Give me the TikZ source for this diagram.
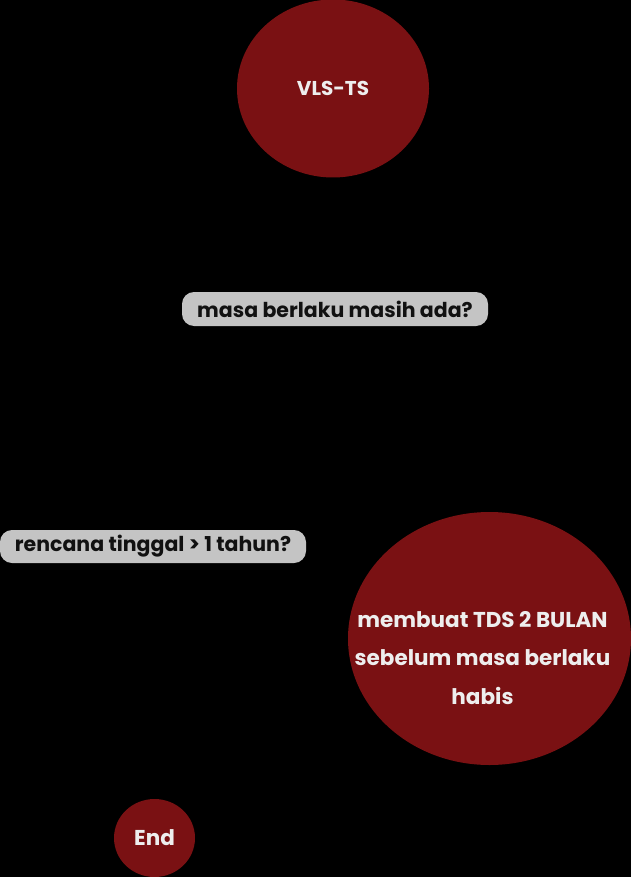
\documentclass[tikz,border=0pt]{standalone}
\usepackage{fontspec}
\setmainfont{Poppins}
\usetikzlibrary{shapes.geometric}
\definecolor{dred}{HTML}{7A1113}
\definecolor{boxgrey}{HTML}{C4C4C4}
\definecolor{txtdark}{HTML}{111111}
\definecolor{txtlight}{HTML}{EEEEEE}
\tikzset{
  redoval/.style={ellipse, fill=dred, inner sep=0pt, text=txtlight, font=\bfseries\fontsize{20}{38}\selectfont, align=center},
  lighttext/.style={inner sep=0pt, text=txtlight, font=\bfseries\fontsize{21.5}{38.5}\selectfont, align=center},
  greybox/.style={rectangle, rounded corners=12pt, fill=boxgrey, inner sep=0pt, text=txtdark, font=\bfseries\fontsize{20.5}{22}\selectfont}
}
\begin{document}
\begin{tikzpicture}[x=1pt,y=-1pt]
\fill[black] (0,0) rectangle (631,877);
\useasboundingbox (0,0) rectangle (631,877);
\node[redoval, minimum width=192pt, minimum height=178pt] (start) at (333,88.5) {VLS-TS};
\node[greybox, minimum width=306pt, minimum height=34pt] (q1) at (335,309) {masa berlaku masih ada?};
\node[greybox, minimum width=306pt, minimum height=33pt] (q2) at (153,546.5) {rencana tinggal > 1 tahun?};
\node[redoval, minimum width=283pt, minimum height=253pt] (act) at (489.5,638.5) {};
\node[lighttext] (acttext) at (482.5,658) {membuat TDS 2 BULAN\\sebelum masa berlaku\\habis};
\node[redoval, minimum width=81pt, minimum height=78pt, font=\bfseries\fontsize{21.5}{24}\selectfont] (end) at (154.5,838) {End};
\end{tikzpicture}
\end{document}
